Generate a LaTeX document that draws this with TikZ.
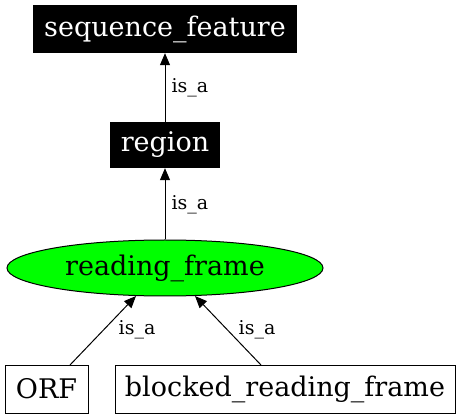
\documentclass[tikz,border=0pt]{standalone}
\usepackage{fontspec}
\setmainfont{DejaVu Serif}
\usetikzlibrary{shapes.geometric,arrows.meta}
\begin{document}
\begin{tikzpicture}[x=1pt,y=-1pt,
  nfont/.style={font=\fontsize{27}{30}\selectfont},
  blk/.style={fill=black,text=white,inner sep=0pt,nfont},
  wbox/.style={draw=black,fill=white,inner sep=0pt,line width=1pt,nfont},
  ell/.style={ellipse,draw=black,fill=green,inner sep=0pt,line width=1pt,nfont},
  edge/.style={-{Triangle[length=12pt,width=10pt]},black,line width=1pt},
  lbl/.style={font=\fontsize{19}{22}\selectfont}]
\useasboundingbox (0,0) rectangle (460,419);
\node[blk,minimum width=264,minimum height=48] (sf) at (165,29) {sequence\_feature};
\node[blk,minimum width=110,minimum height=46] (rg) at (165,145) {region};
\node[ell,minimum width=316,minimum height=56] (rf) at (165,268) {reading\_frame};
\node[wbox,minimum width=83,minimum height=48] (orf) at (46.5,389) {ORF};
\node[wbox,minimum width=340,minimum height=48] (brf) at (285,389) {blocked\_reading\_frame};
\coordinate (orfs) at (70,365);
\coordinate (brfs) at (261,365);
\coordinate (rft1) at (136,296);
\coordinate (rft2) at (195,296);
\draw[edge] (rg) -- (sf);
\draw[edge] (rf) -- (rg);
\draw[edge] (orfs) -- (rft1);
\draw[edge] (brfs) -- (rft2);
\node[lbl,anchor=west] (l1) at (168,88) {is\_a};
\node[lbl,anchor=west] (l2) at (168,205) {is\_a};
\node[lbl] (l3) at (137,330) {is\_a};
\node[lbl] (l4) at (257,330) {is\_a};
\end{tikzpicture}
\end{document}
